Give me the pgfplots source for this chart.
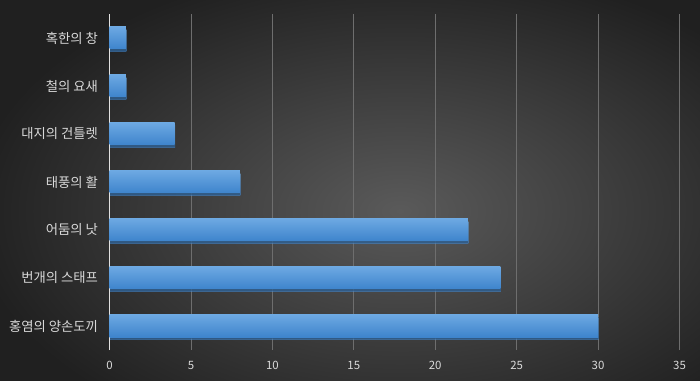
\documentclass[border=0pt]{standalone}
\usepackage{pgfplots}
\pgfplotsset{compat=1.18}
\usepackage{fontspec}
\setmainfont{Noto Sans CJK KR}
\usetikzlibrary{shadows}
\definecolor{bgin}{HTML}{5A5A5A}
\definecolor{bgout}{HTML}{202020}
\definecolor{bartop}{HTML}{6CA8E2}
\definecolor{barbot}{HTML}{3E84CC}
\definecolor{gridc}{HTML}{6E6E6E}
\definecolor{labc}{HTML}{D9D9D9}
\pgfplotsset{mybar/.style={draw=none, top color=bartop, bottom color=barbot,
  drop shadow={shadow xshift=0.6bp, shadow yshift=-2.2bp, opacity=0.6, fill=black}}}
\begin{document}
\begin{tikzpicture}
\useasboundingbox (0,0) rectangle (700bp,381bp);
\shade[inner color=bgin, outer color=bgout] (-30bp,-80bp) rectangle (830bp,420bp);
\begin{axis}[
  at={(109.5bp,31bp)}, anchor=south west,
  scale only axis, width=570bp, height=336bp,
  xbar, bar width=22bp, bar shift=0pt,
  xmin=0, xmax=35, ymin=-0.5, ymax=6.5,
  xtick={0,5,...,35},
  ytick={0,1,2,3,4,5,6},
  yticklabels={홍염의 양손도끼, 번개의 스태프, 어둠의 낫, 태풍의 활, 대지의 건틀렛, 철의 요새, 혹한의 창},
  major tick length=0pt,
  xmajorgrids, major grid style={draw=gridc, line width=0.6bp},
  axis x line*=bottom, axis y line*=left,
  x axis line style={draw=none},
  y axis line style={draw=labc!80, line width=0.8bp},
  yticklabel style={font=\fontsize{13.4}{15}\selectfont, text=labc, xshift=-8bp},
  xticklabel style={font=\fontsize{11.5}{13}\selectfont, text=labc, yshift=-8bp},
  /pgf/number format/assume math mode=true,
  clip=false,
]
\addplot[mybar] coordinates {(30,0)};
\addplot[mybar] coordinates {(24,1)};
\addplot[mybar] coordinates {(22,2)};
\addplot[mybar] coordinates {(8,3)};
\addplot[mybar] coordinates {(4,4)};
\addplot[mybar] coordinates {(1,5)};
\addplot[mybar] coordinates {(1,6)};
\end{axis}
\end{tikzpicture}
\end{document}
